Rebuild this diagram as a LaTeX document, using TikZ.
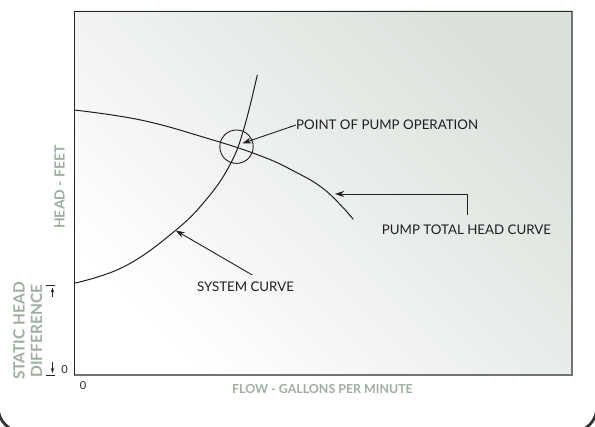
\documentclass[tikz,border=0pt]{standalone}
\usepackage{fontspec}
\setmainfont{Lato}
\usetikzlibrary{arrows.meta}
\definecolor{axlab}{HTML}{9EAE9F}
\definecolor{frame}{HTML}{333333}
\definecolor{bgtr}{HTML}{DAE1DB}
\tikzset{
  curve/.style={line width=1pt, black!88},
  pointer/.style={line width=0.9pt, black!88, -{Stealth[length=9pt,width=6pt]}},
  lab/.style={font=\fontsize{13.3}{15}\selectfont, text=black!88, inner sep=0pt},
  axislab/.style={font=\fontsize{12.4}{13}\selectfont\bfseries, text=axlab, inner sep=0pt},
  tick/.style={line width=0.8pt, black!85},
  small/.style={font=\fontsize{11}{12}\selectfont, inner sep=0pt, text=black!85}
}
\begin{document}
\begin{tikzpicture}[x=1pt,y=-1pt]
\useasboundingbox (0,0) rectangle (595,427);
% outer frame (partially visible)
\begin{scope}
\clip (0,0) rectangle (595,427);
\draw[line width=2.8pt, frame, rounded corners=25pt] (-2,-60) rectangle (597,432);
\end{scope}
% plot area
\shade[bottom color=white, top color=bgtr, shading angle=-45] (74,11) rectangle (572,375);
\draw[line width=1.6pt, black!55] (74,375) -- (572,375) -- (572,11);
\draw[line width=0.8pt, black!85] (572,11) -- (74,11) -- (74,375);
% curves
\draw[curve] plot[smooth, tension=0.7] coordinates {(74,110) (140.7,120) (207.3,138.3) (258.3,155) (291.7,170) (325,190) (353.3,219.3)};
\draw[curve] plot[smooth, tension=0.7] coordinates {(74,283.3) (124,266.7) (174,231.7) (207.3,198.3) (230.7,163.3) (244,128.3) (257.3,75)};
% operating point circle
\node[draw, circle, minimum size=33.4pt, inner sep=0pt, line width=0.9pt, black!88] (op) at (236.5,146.7) {};
% labels
\node[lab, anchor=west] (lop) at (296,125) {POINT OF PUMP OPERATION};
\node[lab] (lpump) at (466.5,230) {PUMP TOTAL HEAD CURVE};
\node[lab] (lsys) at (245.5,287) {SYSTEM CURVE};
\coordinate (tipop) at (242.5,143.3);
\coordinate (tippump) at (335,194);
\coordinate (tipsys) at (175.7,230.5);
\coordinate (bend) at (467,194);
\coordinate (pstart) at (467,215);
\coordinate (sstart) at (252.3,275);
\draw[pointer] (lop.west) -- (tipop);
\draw[pointer] (pstart) -- (bend) -- (tippump);
\draw[pointer] (sstart) -- (tipsys);
% axis labels
\node[axislab, rotate=90, font=\fontsize{14}{15}\selectfont\bfseries] (head) at (59.5,187) {HEAD - FEET};
\node[axislab] (flow) at (322.5,389) {FLOW - GALLONS PER MINUTE};
\node[axislab, rotate=90, align=center, font=\fontsize{15.5}{17.5}\selectfont\bfseries] (static) at (27.8,331) {STATIC HEAD\\DIFFERENCE};
% static head indicators
\draw[tick] (46,285) -- (55,285);
\draw[tick] (46,375) -- (55,375);
\draw[tick, -{Stealth[length=5pt,width=3.5pt]}] (52.5,297) -- (52.5,287.5);
\draw[tick, -{Stealth[length=5pt,width=3.5pt]}] (52.5,362) -- (52.5,373);
\node[small] (z1) at (64.5,370) {0};
\node[small] (z2) at (83,386) {0};
\end{tikzpicture}
\end{document}
